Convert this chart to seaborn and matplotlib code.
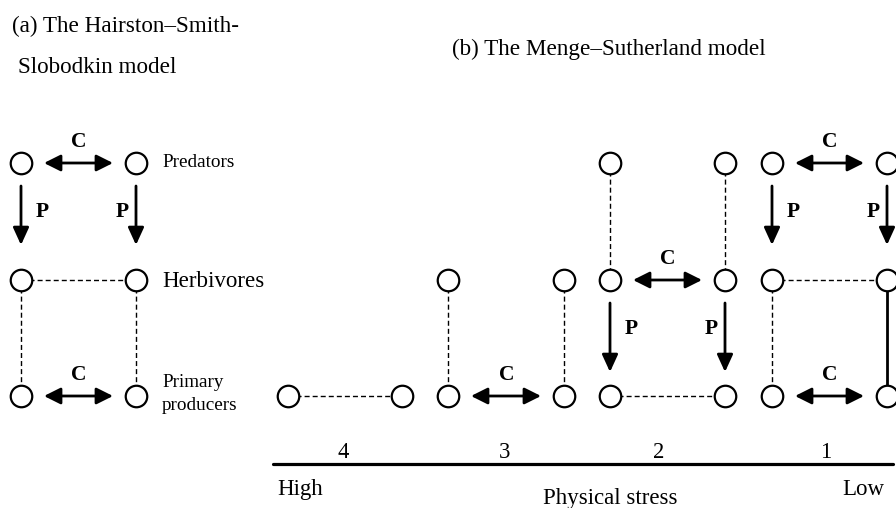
import matplotlib
matplotlib.use("Agg")
import matplotlib.pyplot as plt
import seaborn as sns
import pandas as pd

sns.set_theme(style="white")
plt.rcParams["font.family"] = ["Liberation Serif", "DejaVu Serif"]
plt.rcParams["text.color"] = "black"

# ---------------- data ----------------
row_y = {"pred": 163, "herb": 280, "prod": 396}

node_x = [21, 136, 21, 136, 21, 136,
          288, 402,
          448, 564, 448, 564,
          610, 725, 610, 725, 610, 725,
          772, 887, 772, 887, 772, 887]
node_row = ["pred", "pred", "herb", "herb", "prod", "prod",
            "prod", "prod",
            "herb", "herb", "prod", "prod",
            "pred", "pred", "herb", "herb", "prod", "prod",
            "pred", "pred", "herb", "herb", "prod", "prod"]

# links between nodes
link_x1 = [21, 21, 136, 288, 448, 564, 610, 725, 610, 772, 772, 887]
link_r1 = ["herb", "herb", "herb", "prod", "herb", "herb", "pred", "pred", "prod", "herb", "herb", "herb"]
link_x2 = [136, 21, 136, 402, 448, 564, 610, 725, 725, 887, 772, 887]
link_r2 = ["herb", "prod", "prod", "prod", "prod", "prod", "herb", "herb", "prod", "herb", "prod", "prod"]
link_solid = [False] * 11 + [True]

# competition (C) double arrows
comp_x1 = [21, 21, 448, 610, 772, 772]
comp_x2 = [136, 136, 564, 725, 887, 887]
comp_row = ["pred", "prod", "prod", "herb", "pred", "prod"]

# predation (P) arrows
pred_x = [21, 136, 610, 725, 772, 887]
pred_from = ["pred", "pred", "herb", "herb", "pred", "pred"]
pred_to = ["herb", "herb", "prod", "prod", "herb", "herb"]
pred_side = [1, -1, 1, -1, 1, -1]

stage_labels = ["4", "3", "2", "1"]
stage_x = [343, 505, 659, 826]

# ---------------- figure ----------------
fig = plt.figure(figsize=(8.96, 5.08), dpi=100)
ax = fig.add_axes([0, 0, 1, 1])

# links
for x1, r1, x2, r2, solid in zip(link_x1, link_r1, link_x2, link_r2, link_solid):
    if solid:
        ax.plot([x1, x2], [row_y[r1], row_y[r2]], color="black", lw=2.0, zorder=1)
    else:
        ax.plot([x1, x2], [row_y[r1], row_y[r2]], color="black", lw=1.0,
                dashes=(3.6, 2.2), zorder=1)

# nodes
nodes = pd.DataFrame({"x": node_x, "y": [row_y[r] for r in node_row]})
sns.scatterplot(data=nodes, x="x", y="y", ax=ax, s=240, marker="o",
                facecolor="white", edgecolor="black", linewidth=1.6,
                zorder=3, legend=False)
ax.set_xlim(0, 896)
ax.set_ylim(508, 0)
ax.set_xlabel("")
ax.set_ylabel("")
ax.axis("off")

aprops = dict(arrowstyle="<|-|>,head_length=1.0,head_width=0.5", lw=2.0,
              color="black", shrinkA=0, shrinkB=0, mutation_scale=10)
pprops = dict(arrowstyle="-|>,head_length=1.05,head_width=0.48", lw=2.0,
              color="black", shrinkA=0, shrinkB=0, mutation_scale=10)

bold = dict(fontsize=15.5, fontweight="bold", ha="center", va="baseline")

for x1, x2, r in zip(comp_x1, comp_x2, comp_row):
    y = row_y[r]
    ax.annotate("", xy=(x2 - 23, y), xytext=(x1 + 23, y), arrowprops=aprops)
    ax.text((x1 + x2) / 2 + 0.5, y - 16, "C", **bold)

for x, rf, rt, side in zip(pred_x, pred_from, pred_to, pred_side):
    y1 = row_y[rf] + 23
    y2 = row_y[rt] - (35 if rt == "herb" else 24)
    ax.annotate("", xy=(x, y2), xytext=(x, y1), arrowprops=pprops)
    ax.text(x + (21 if side > 0 else -14), row_y[rf] + 54, "P", **bold)

# row labels
ax.text(162, 167, "Predators", fontsize=13.8, ha="left", va="baseline")
ax.text(162, 287, "Herbivores", fontsize=16.6, ha="left", va="baseline")
ax.text(162, 387, "Primary", fontsize=13.8, ha="left", va="baseline")
ax.text(162, 410, "producers", fontsize=13.8, ha="left", va="baseline")

# titles
ax.text(12, 32, "(a) The Hairston\u2013Smith-", fontsize=16.7, ha="left", va="baseline")
ax.text(18, 73, "Slobodkin model", fontsize=16.7, ha="left", va="baseline")
ax.text(452, 55, "(b) The Menge\u2013Sutherland model", fontsize=16.7, ha="left", va="baseline")

# stress axis
ax.plot([273, 893], [464, 464], color="black", lw=2.3)
for lab, x in zip(stage_labels, stage_x):
    ax.text(x, 458, lab, fontsize=16.3, ha="center", va="baseline")
ax.text(277, 495, "High", fontsize=16.5, ha="left", va="baseline")
ax.text(884, 495, "Low", fontsize=16.5, ha="right", va="baseline")
ax.text(610, 504, "Physical stress", fontsize=16.5, ha="center", va="baseline")

fig.savefig("out.png", dpi=100)
